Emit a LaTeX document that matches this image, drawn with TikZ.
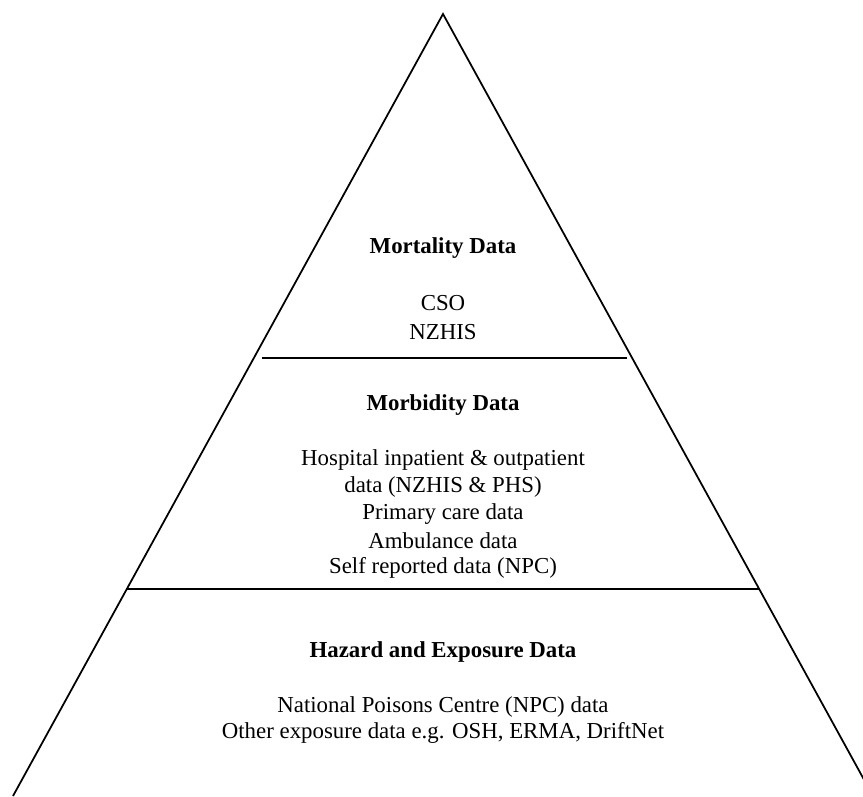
\documentclass[tikz,border=0pt]{standalone}
\usepackage{fontspec}
\setmainfont{Liberation Serif}
\usetikzlibrary{positioning}

\begin{document}
\begin{tikzpicture}
\tikzset{
    edge/.style={black, line width=1pt},
    label/.style={anchor=center, inner sep=0pt, font=\fontsize{13}{15}\selectfont},
    heading/.style={label, font=\fontsize{13}{15}\selectfont\bfseries}
}
\useasboundingbox (0,0) rectangle (17.26,15.92);
\clip (0,0) rectangle (17.26,15.92);

\coordinate (apex) at (8.86,15.64);
\coordinate (baseL) at (0.26,0);
\coordinate (baseR) at (17.46,0);
\draw[edge] (baseL) -- (apex) -- (baseR);
\draw[edge] (5.24,8.76) -- (12.54,8.76);
\draw[edge] (2.54,4.14) -- (15.18,4.14);

\node[heading] (mort) at (8.86,10.96) {Mortality Data};
\node[label] (cso) at (8.86,9.86) {CSO};
\node[label] (nzhis) at (8.86,9.28) {NZHIS};

\node[heading] (morb) at (8.86,7.82) {Morbidity Data};
\node[label] (hosp) at (8.86,6.72) {Hospital inpatient \& outpatient};
\node[label] (hospb) at (8.86,6.18) {data (NZHIS \& PHS)};
\node[label] (prim) at (8.86,5.64) {Primary care data};
\node[label] (amb) at (8.86,5.10) {Ambulance data};
\node[label] (self) at (8.86,4.56) {Self reported data (NPC)};

\node[heading] (haz) at (8.86,2.88) {Hazard and Exposure Data};
\node[label] (npc) at (8.86,1.78) {National Poisons Centre (NPC) data};
\node[label] (other) at (8.86,1.26) {Other exposure data e.g. OSH, ERMA, DriftNet};

\end{tikzpicture}
\end{document}
